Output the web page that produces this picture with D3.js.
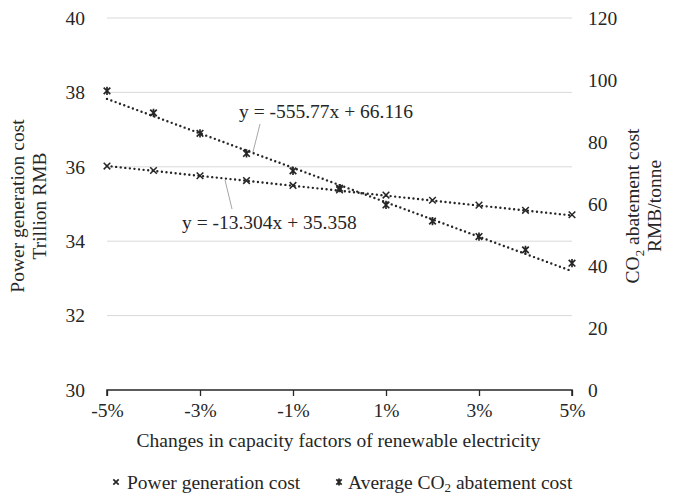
<!DOCTYPE html>
<html>
<head>
<meta charset="utf-8">
<script src="https://cdn.jsdelivr.net/npm/d3@7"></script>
<style>
  body { margin: 0; background: #fff; }
  svg text { font-family: "Liberation Serif", "Times New Roman", serif; fill: #262626; }
</style>
</head>
<body>
<svg width="680" height="494"></svg>
<script>
// changes in capacity factor (fraction)
const changes = [-0.05, -0.04, -0.03, -0.02, -0.01, 0, 0.01, 0.02, 0.03, 0.04, 0.05];
// power generation cost, trillion RMB (left axis)
const powerCost = [36.02, 35.90, 35.76, 35.63, 35.50, 35.38, 35.24, 35.10, 34.97, 34.83, 34.71];
// average CO2 abatement cost, RMB/tonne (right axis)
const co2Cost = [96.5, 89.4, 82.8, 76.3, 70.7, 65.1, 59.7, 54.5, 49.5, 45.2, 40.9];
// linear trend coefficients [slope, intercept]
const powerTrend = [-13.304, 35.358];
const co2Trend = [-555.77, 66.116];
const xTicks = [-0.05, -0.03, -0.01, 0.01, 0.03, 0.05];
const leftTicks = [30, 32, 34, 36, 38, 40];
const rightTicks = [0, 20, 40, 60, 80, 100, 120];

function run() {
  const svg = d3.select("svg");
  const left = 107, right = 572, top = 18, bottom = 390;
  const ink = "#262626";
  const fs = 19.5;

  const x = d3.scaleLinear().domain([-0.05, 0.05]).range([left, right]);
  const yL = d3.scaleLinear().domain([30, 40]).range([bottom, top]);
  const yR = d3.scaleLinear().domain([0, 120]).range([bottom, top]);

  // gridlines
  svg.append("g").selectAll("line")
    .data(leftTicks.filter(d => d > 30))
    .join("line")
    .attr("x1", left).attr("x2", right)
    .attr("y1", d => yL(d)).attr("y2", d => yL(d))
    .attr("stroke", "#d9d9d9").attr("stroke-width", 1);

  // x axis
  const xAxis = svg.append("g")
    .attr("transform", `translate(0,${bottom})`)
    .call(d3.axisBottom(x).tickValues(xTicks).tickSize(6).tickPadding(7)
      .tickFormat(d => Math.round(d * 100) + "%"));
  xAxis.select(".domain").attr("stroke", ink).attr("stroke-width", 1.5).attr("d", `M${left},6V0H${right}V6`);
  xAxis.selectAll(".tick line").attr("stroke", ink).attr("stroke-width", 1.3);
  xAxis.selectAll("text").attr("font-size", fs).attr("fill", ink);

  // left axis
  const lAxis = svg.append("g")
    .attr("transform", `translate(${left},0)`)
    .call(d3.axisLeft(yL).tickValues(leftTicks).tickSize(0).tickPadding(22));
  lAxis.select(".domain").remove();
  lAxis.selectAll("text").attr("font-size", fs).attr("fill", ink);

  // right axis
  const rAxis = svg.append("g")
    .attr("transform", `translate(${right},0)`)
    .call(d3.axisRight(yR).tickValues(rightTicks).tickSize(0).tickPadding(16));
  rAxis.select(".domain").remove();
  rAxis.selectAll("text").attr("font-size", fs).attr("fill", ink);

  // trendlines
  const trend = (c, y) => d3.line()
    .x(d => x(d)).y(d => y(c[0] * d + c[1]))([changes[0], changes[changes.length - 1]]);
  [[co2Trend, yR], [powerTrend, yL]].forEach(([c, y]) => {
    svg.append("path")
      .attr("d", trend(c, y))
      .attr("fill", "none").attr("stroke", ink).attr("stroke-width", 2.4)
      .attr("stroke-linecap", "round").attr("stroke-dasharray", "0 4.6");
  });

  // markers
  const crossPath = s => `M${-s},${-s}L${s},${s}M${-s},${s}L${s},${-s}`;
  const starPath = s => crossPath(s) + `M0,${-s - 0.8}L0,${s + 0.8}`;

  svg.append("g").selectAll("path")
    .data(changes.map((c, i) => [c, powerCost[i]]))
    .join("path")
    .attr("transform", d => `translate(${x(d[0])},${yL(d[1])})`)
    .attr("d", crossPath(3.3))
    .attr("stroke", ink).attr("stroke-width", 1.5).attr("fill", "none");

  svg.append("g").selectAll("path")
    .data(changes.map((c, i) => [c, co2Cost[i]]))
    .join("path")
    .attr("transform", d => `translate(${x(d[0])},${yR(d[1])})`)
    .attr("d", starPath(3.3))
    .attr("stroke", ink).attr("stroke-width", 1.7).attr("fill", "none");

  // trend equations with leader lines
  svg.append("line").attr("x1", 260).attr("y1", 124).attr("x2", 253).attr("y2", 152)
    .attr("stroke", "#a6a6a6").attr("stroke-width", 1);
  svg.append("text").attr("x", 239).attr("y", 118).attr("font-size", fs)
    .text(`y = ${co2Trend[0]}x + ${co2Trend[1]}`);
  svg.append("line").attr("x1", 225).attr("y1", 180).attr("x2", 232).attr("y2", 209)
    .attr("stroke", "#a6a6a6").attr("stroke-width", 1);
  svg.append("text").attr("x", 182).attr("y", 229).attr("font-size", fs)
    .text(`y = ${powerTrend[0]}x + ${powerTrend[1]}`);

  // axis titles
  const lt = svg.append("text").attr("transform", "translate(24,206) rotate(-90)")
    .attr("text-anchor", "middle").attr("font-size", fs);
  lt.append("tspan").attr("x", 0).attr("dy", 0).text("Power generation cost");
  lt.append("tspan").attr("x", 0).attr("dy", 22).text("Trillion RMB");

  const rt = svg.append("text").attr("transform", "translate(639,206) rotate(-90)")
    .attr("text-anchor", "middle").attr("font-size", fs);
  rt.append("tspan").attr("x", 0).attr("dy", 0).text("CO");
  rt.append("tspan").attr("font-size", 13).attr("dy", 5).text("2");
  rt.append("tspan").attr("dy", -5).text(" abatement cost");
  rt.append("tspan").attr("x", 0).attr("dy", 22).text("RMB/tonne");

  svg.append("text").attr("x", (left + right) / 2 - 1).attr("y", 447)
    .attr("text-anchor", "middle").attr("font-size", fs)
    .text("Changes in capacity factors of renewable electricity");

  // legend
  const leg = svg.append("g");
  leg.append("path").attr("transform", "translate(116,482)").attr("d", crossPath(2.7))
    .attr("stroke", ink).attr("stroke-width", 1.7);
  leg.append("text").attr("x", 127).attr("y", 489).attr("font-size", fs).text("Power generation cost");
  leg.append("path").attr("transform", "translate(339,482)").attr("d", starPath(2.7))
    .attr("stroke", ink).attr("stroke-width", 1.8);
  const lt2 = leg.append("text").attr("x", 348).attr("y", 489).attr("font-size", fs);
  lt2.append("tspan").text("Average CO");
  lt2.append("tspan").attr("font-size", 13).attr("dy", 3).text("2");
  lt2.append("tspan").attr("dy", -3).text(" abatement cost");
}

run();
</script>
</body>
</html>
